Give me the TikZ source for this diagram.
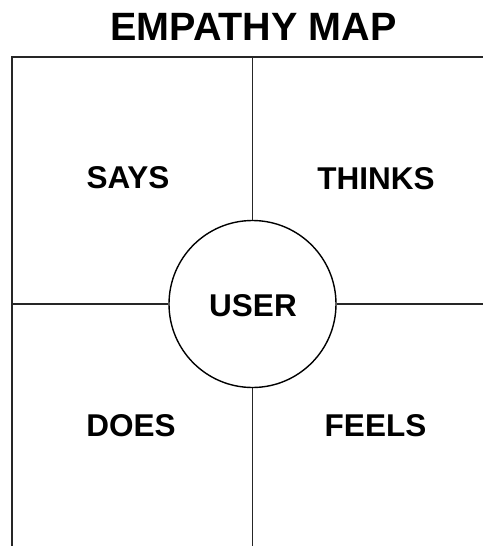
\documentclass[tikz,border=0pt]{standalone}
\usepackage{fontspec}
\setmainfont{Liberation Sans}
\begin{document}
\begin{tikzpicture}[x=1pt,y=-1pt,
  lbl/.style={font=\fontsize{31.5}{36}\selectfont\bfseries, inner sep=0pt, anchor=base},
  grid/.style={line width=1.4pt, draw=black!85}]
\useasboundingbox (0,0) rectangle (483,546);
% frame corners and dividing line ends
\coordinate (tl) at (12,57);
\coordinate (tr) at (483,57);
\coordinate (bl) at (12,546);
\coordinate (tm) at (252.5,57);
\coordinate (bm) at (252.5,546);
\coordinate (ml) at (12,304);
\coordinate (mr) at (483,304);
% title
\node[font=\fontsize{39.5}{44}\selectfont\bfseries, inner sep=0pt, anchor=base] (title) at (253.5,40) {EMPATHY MAP};
% central user circle
\node[circle, draw, line width=1.4pt, minimum size=167pt, inner sep=0pt] (user) at (252.5,304) {};
\node[lbl] (usertext) at (253,316) {USER};
% frame and dividers
\draw[grid] (bl) -- (tl) -- (tr);
\draw[grid] (tm) -- (user);
\draw[grid] (user) -- (bm);
\draw[grid] (ml) -- (user);
\draw[grid] (user) -- (mr);
% quadrant labels
\node[lbl] (says) at (128,188) {SAYS};
\node[lbl] (thinks) at (376,189) {THINKS};
\node[lbl] (does) at (131,436.5) {DOES};
\node[lbl] (feels) at (375.5,436.5) {FEELS};
\end{tikzpicture}
\end{document}
